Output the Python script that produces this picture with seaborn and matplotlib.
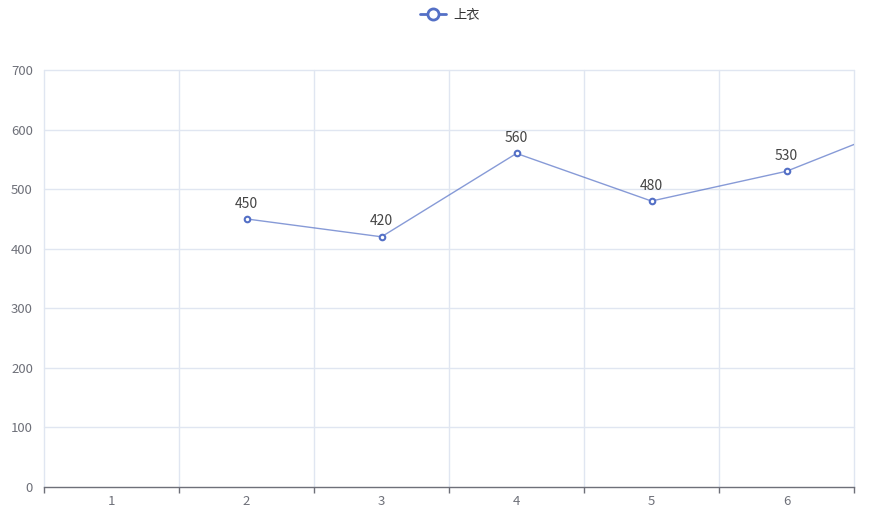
import matplotlib
matplotlib.use("Agg")
import matplotlib.pyplot as plt
import numpy as np
import pandas as pd
import seaborn as sns
from matplotlib.lines import Line2D

categories = ["1", "2", "3", "4", "5", "6", "7"]
values = [np.nan, 450, 420, 560, 480, 530, 620]
series_name = "上衣"
y_ticks = [0, 100, 200, 300, 400, 500, 600, 700]

LINE = "#5470c6"
GRID = "#e0e6f1"
AXIS = "#6e7079"

sns.set_theme(style="white")
plt.rcParams["font.family"] = ["Noto Sans CJK SC", "DejaVu Sans"]

df = pd.DataFrame({"pos": np.arange(len(categories)), "value": values})

fig = plt.figure(figsize=(8.75, 5.24), dpi=100)
ax = fig.add_axes([44 / 875, 1 - 487 / 524, (854 - 44) / 875, (487 - 70) / 524])

sns.lineplot(data=df, x="pos", y="value", ax=ax, color=LINE, lw=1, alpha=0.7,
             marker=None, legend=False)
ax.plot(df["pos"], df["value"], ls="none", marker="o", ms=4, mfc="white",
        mec=LINE, mew=1.5, zorder=4, clip_on=True)

visible = 6
for i, v in enumerate(values):
    if not np.isnan(v) and i < visible:
        ax.annotate(f"{v:g}", (i, v), xytext=(0, 6), textcoords="offset points",
                    ha="center", va="bottom", fontsize=10, color="#444444")

ax.set_xlim(-0.5, visible - 0.5)
ax.set_ylim(0, 700)
ax.set_yticks(y_ticks)
ax.set_xticks(range(visible))
ax.set_xticklabels(categories[:visible])
ax.set_xlabel("")
ax.set_ylabel("")

for y in y_ticks[1:]:
    ax.axhline(y, color=GRID, lw=1, zorder=0, clip_on=False)
for b in np.arange(-0.5, visible, 1.0):
    ax.axvline(b, color=GRID, lw=1, zorder=0, clip_on=False)

for s in ["top", "right", "left"]:
    ax.spines[s].set_visible(False)
ax.spines["bottom"].set_color(AXIS)
ax.spines["bottom"].set_linewidth(1)

ax.tick_params(axis="y", length=0, pad=8, labelsize=9.5, labelcolor=AXIS)
ax.tick_params(axis="x", length=0, pad=6, labelsize=9.5, labelcolor=AXIS)
ax.set_xticks(np.arange(-0.5, visible, 1.0), minor=True)
ax.tick_params(axis="x", which="minor", length=4, width=1, color=AXIS, bottom=True)

handle = Line2D([], [], color=LINE, lw=2, marker="o", ms=8, mfc="white", mec=LINE, mew=2)
fig.legend([handle], [series_name], loc="center", bbox_to_anchor=(0.514, 1 - 15 / 524),
           frameon=False, fontsize=9.5, handlelength=2, handletextpad=0.5,
           labelcolor="#333333")

fig.savefig("out.png", dpi=100)
